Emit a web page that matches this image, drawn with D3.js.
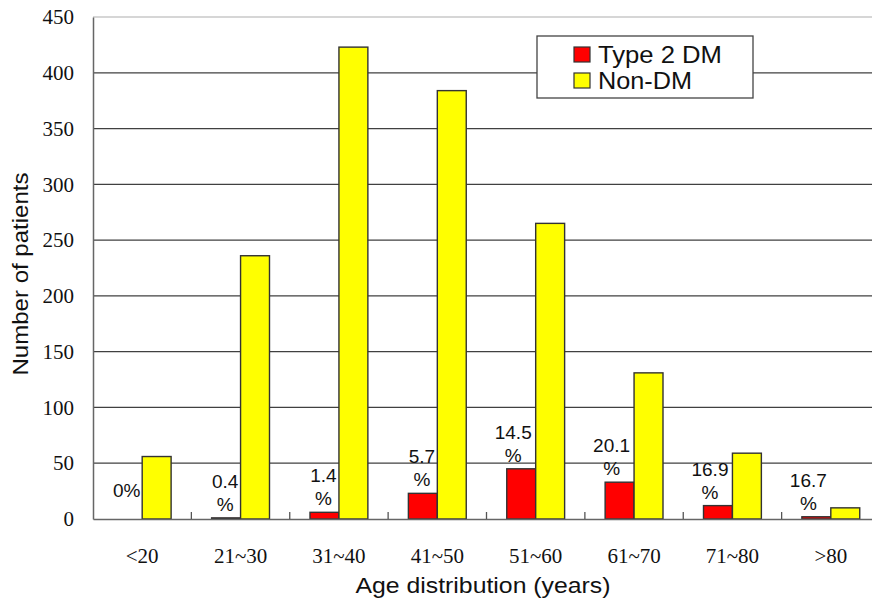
<!DOCTYPE html>
<html><head><meta charset="utf-8">
<script src="https://cdn.jsdelivr.net/npm/d3@7"></script>
<style>body{margin:0;background:#fff}svg{display:block}</style>
</head><body>
<svg id="c" width="872" height="600"></svg>
<script>
const categories = ["<20","21~30","31~40","41~50","51~60","61~70","71~80",">80"];
const type2DM = [0,1,6,23,45,33,12,2];
const nonDM = [56,236,423,384,265,131,59,10];
const pctLabels = ["0%","0.4","1.4","5.7","14.5","20.1","16.9","16.7"];
const yTicks = [0,50,100,150,200,250,300,350,400,450];
const seriesNames = ["Type 2 DM","Non-DM"];
const colors = ["#ff0000","#ffff00"];

const svg = d3.select("#c");
const mLeft = 93, mRight = 880, mTop = 17, mBottom = 519;
const x = d3.scaleBand().domain(categories).range([mLeft, mRight]).paddingInner(0).paddingOuter(0);
const xs = d3.scaleBand().domain([0,1]).range([0, x.bandwidth()]).paddingInner(0).paddingOuter(0.7);
const y = d3.scaleLinear().domain([0,450]).range([mBottom, mTop]);
const sans = "'Liberation Sans', Arial, sans-serif";
const serif = "'Liberation Serif', 'Times New Roman', serif";

// gridlines
svg.append("g").selectAll("line").data(yTicks.filter(d=>d>0)).join("line")
  .attr("x1", mLeft).attr("x2", mRight).attr("y1", d=>y(d)).attr("y2", d=>y(d))
  .attr("stroke", d=> d===450 ? "#c8c8c8" : "#404040").attr("stroke-width", 1.3);

// y axis
const ya = svg.append("g").attr("transform",`translate(${mLeft},0)`)
  .call(d3.axisLeft(y).tickValues(yTicks).tickSize(0).tickPadding(19));
ya.select(".domain").attr("stroke","#666").attr("stroke-width",1.5);
ya.selectAll("text").attr("font-family",serif).attr("font-size",21).attr("fill","#111");

// bars
const groups = svg.append("g").selectAll("g").data(categories).join("g")
  .attr("transform", d=>`translate(${x(d)},0)`);
groups.each(function(c,i){
  const g = d3.select(this);
  [type2DM[i], nonDM[i]].forEach((v,k)=>{
    if (v<=0) return;
    g.append("rect").attr("x", xs(k)).attr("width", xs.bandwidth())
      .attr("y", y(v)).attr("height", y(0)-y(v))
      .attr("fill", colors[k]).attr("stroke","#333").attr("stroke-width",1.4);
  });
  const cx = xs(0) + xs.bandwidth()/2 - (i>=4 ? 8 : 1);
  const t = pctLabels[i];
  const lab = g.append("text").attr("text-anchor","middle")
    .attr("font-family",sans).attr("font-size",19).attr("fill","#111");
  if (t.endsWith("%")) {
    lab.attr("x", cx).attr("y", y(type2DM[i]) - 22).text(t);
  } else {
    lab.append("tspan").attr("x", cx).attr("y", y(type2DM[i]) - 30).text(t);
    lab.append("tspan").attr("x", cx).attr("y", y(type2DM[i]) - 7).text("%");
  }
});

// x axis
const xa = svg.append("g").attr("transform",`translate(0,${mBottom})`)
  .call(d3.axisBottom(x).tickSize(0).tickPadding(29));
xa.select(".domain").attr("stroke","#666").attr("stroke-width",1.5);
xa.selectAll("text").attr("font-family",serif).attr("font-size",21).attr("fill","#111");
svg.append("g").selectAll("line").data(categories.slice(1)).join("line")
  .attr("x1", d=>x(d)).attr("x2", d=>x(d)).attr("y1", mBottom).attr("y2", mBottom-7)
  .attr("stroke","#555").attr("stroke-width",1.3);

// axis titles
svg.append("text").attr("transform","translate(28,274) rotate(-90)").attr("text-anchor","middle")
  .attr("font-family",sans).attr("font-size",22).attr("fill","#111")
  .attr("textLength",203).attr("lengthAdjust","spacingAndGlyphs")
  .text("Number of patients");
svg.append("text").attr("x",483).attr("y",593).attr("text-anchor","middle")
  .attr("font-family",sans).attr("font-size",22).attr("fill","#111")
  .attr("textLength",255).attr("lengthAdjust","spacingAndGlyphs")
  .text("Age distribution (years)");

// legend
const lg = svg.append("g");
lg.append("rect").attr("x",537).attr("y",36).attr("width",216).attr("height",62)
  .attr("fill","#fff").attr("stroke","#444").attr("stroke-width",1.3);
const legLen = [124, 94];
seriesNames.forEach((n,k)=>{
  lg.append("rect").attr("x",574).attr("y",47+k*26).attr("width",16).attr("height",15)
    .attr("fill",colors[k]).attr("stroke","#333").attr("stroke-width",1.2);
  lg.append("text").attr("x",598).attr("y",63+k*26)
    .attr("font-family",sans).attr("font-size",23).attr("fill","#111")
    .attr("textLength",legLen[k]).attr("lengthAdjust","spacingAndGlyphs").text(n);
});
</script>
</body></html>
